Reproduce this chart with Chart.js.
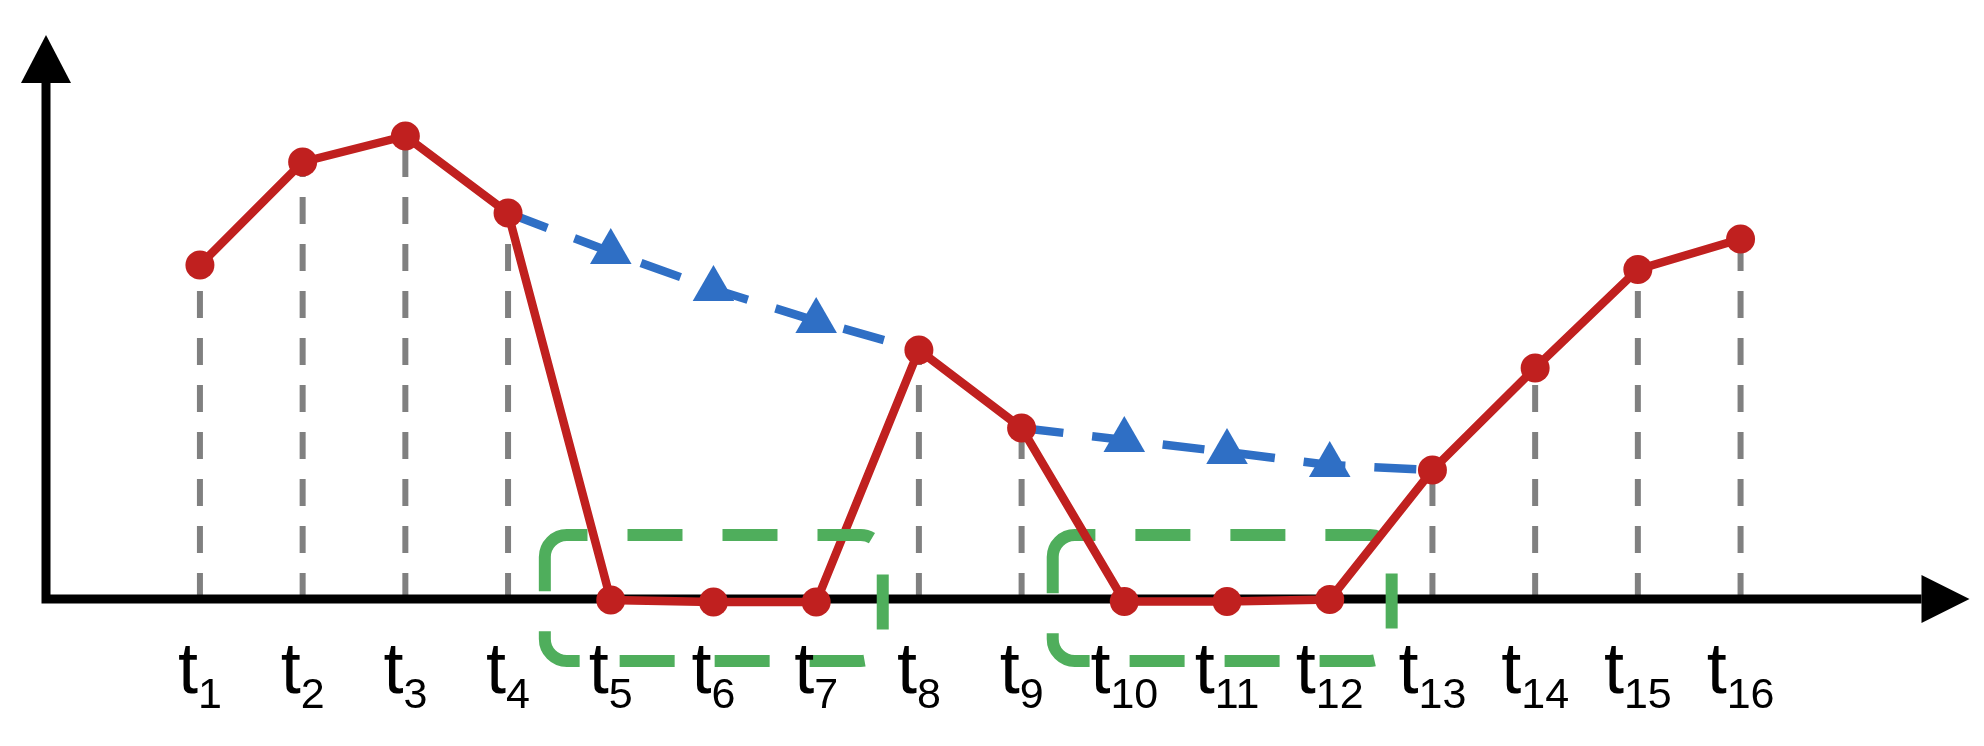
<!DOCTYPE html>
<html>
<head>
<meta charset="utf-8">
<script src="https://cdn.jsdelivr.net/npm/chart.js@4/dist/chart.umd.min.js"></script>
<style>
  html, body { margin: 0; padding: 0; background: #fff; }
  canvas { display: block; }
</style>
</head>
<body>
<canvas id="chart" width="1984" height="746"></canvas>
<script>
// time steps t1..t16 (subscripts under the axis)
const steps = ['1', '2', '3', '4', '5', '6', '7', '8', '9', '10', '11', '12', '13', '14', '15', '16'];
// red series, one value per step
const observed = [33.4, 43.7, 46.3, 38.6, -0.1, -0.3, -0.3, 24.9, 17.1, -0.25, -0.25, -0.05, 12.9, 23.1, 32.95, 36.0];
// blue dashed estimate over the two gaps (t4..t8 and t9..t13)
const trendA = [38.6, 34.7, 31.0, 27.8, 24.9];
const trendAStart = 4;
const trendB = [17.1, 15.9, 14.7, 13.4, 12.9];
const trendBStart = 9;
// green windows, in step units, and their vertical extent
const windows = [[4.358, 7.648], [9.303, 12.603]];
const windowTop = 6.4;
const windowBottom = -6.2;

const RED = '#c0201f';
const BLUE = '#2f6fc5';
const GREEN = '#4fae5c';
const GREY = '#808080';

function legPoints(vals, start) {
    return vals.map((v, i) => ({ x: start + i, y: v }));
}

function drawWindow(chart, w) {
    const { ctx, scales: { x, y } } = chart;
    const l = x.getPixelForValue(w[0]);
    const r = x.getPixelForValue(w[1]);
    const t = y.getPixelForValue(windowTop);
    const b = y.getPixelForValue(windowBottom);
    const rad = 22;
    ctx.save();
    ctx.beginPath();
    ctx.moveTo(l, t + rad);
    ctx.arcTo(l, t, l + rad, t, rad);
    ctx.lineTo(r - rad, t);
    ctx.arcTo(r, t, r, t + rad, rad);
    ctx.lineTo(r, b - rad);
    ctx.arcTo(r, b, r - rad, b, rad);
    ctx.lineTo(l + rad, b);
    ctx.arcTo(l, b, l, b - rad, rad);
    ctx.closePath();
    ctx.setLineDash([55, 40]);
    ctx.lineWidth = 12;
    ctx.strokeStyle = GREEN;
    ctx.stroke();
    ctx.restore();
}

const sketch = {
    id: 'sketch',
    beforeDatasetsDraw(chart) {
        const { ctx, chartArea: area, scales: { x, y } } = chart;
        const y0 = y.getPixelForValue(0);
        const ax = area.left - 1;

        // grey drop lines, dash pattern anchored at the axis
        ctx.save();
        ctx.strokeStyle = GREY;
        ctx.lineWidth = 6;
        ctx.setLineDash([27, 20]);
        observed.forEach((v, i) => {
            if (v <= 1) return;
            const px = x.getPixelForValue(i + 1);
            ctx.beginPath();
            ctx.moveTo(px, y0 + 1);
            ctx.lineTo(px, y.getPixelForValue(v));
            ctx.stroke();
        });
        ctx.restore();

        // axes with arrow heads
        ctx.save();
        ctx.strokeStyle = '#000';
        ctx.fillStyle = '#000';
        ctx.lineWidth = 9;
        ctx.beginPath();
        ctx.moveTo(ax, y0 + 4.5);
        ctx.lineTo(ax, area.top + 48);
        ctx.moveTo(ax - 4.5, y0);
        ctx.lineTo(area.right - 48, y0);
        ctx.stroke();
        ctx.beginPath();
        ctx.moveTo(ax, area.top);
        ctx.lineTo(ax - 25, area.top + 48);
        ctx.lineTo(ax + 25, area.top + 48);
        ctx.closePath();
        ctx.fill();
        ctx.beginPath();
        ctx.moveTo(area.right, y0);
        ctx.lineTo(area.right - 48, y0 - 24);
        ctx.lineTo(area.right - 48, y0 + 24);
        ctx.closePath();
        ctx.fill();
        ctx.restore();

        // second window sits under the red line
        drawWindow(chart, windows[1]);
    },
    afterDatasetsDraw(chart) {
        const { ctx, scales: { x } } = chart;
        // first window sits over the red line
        drawWindow(chart, windows[0]);

        // t with subscript labels
        ctx.save();
        ctx.fillStyle = '#000';
        ctx.textBaseline = 'alphabetic';
        ctx.textAlign = 'left';
        const big = '72px "Liberation Sans", Arial, sans-serif';
        const small = '43px "Liberation Sans", Arial, sans-serif';
        steps.forEach((s, i) => {
            const px = x.getPixelForValue(i + 1);
            ctx.font = big;
            const wt = ctx.measureText('t').width;
            ctx.font = small;
            const ws = ctx.measureText(s).width;
            const sx = px - (wt + ws) / 2;
            ctx.font = big;
            ctx.fillText('t', sx, 693);
            ctx.font = small;
            ctx.fillText(s, sx + wt, 708);
        });
        ctx.restore();
    }
};

const innerOnly = (n) => (c) => (c.dataIndex === 0 || c.dataIndex === n - 1) ? 0 : 24;

new Chart(document.getElementById('chart'), {
    type: 'line',
    data: {
        datasets: [
            {
                data: observed.map((v, i) => ({ x: i + 1, y: v })),
                borderColor: RED,
                borderWidth: 8.5,
                pointRadius: 14.5,
                pointBackgroundColor: RED,
                pointBorderWidth: 0,
                tension: 0
            },
            {
                data: legPoints(trendA, trendAStart),
                borderColor: BLUE,
                borderWidth: 8.5,
                borderDash: [42, 29],
                pointStyle: 'triangle',
                pointRadius: innerOnly(trendA.length),
                pointBackgroundColor: BLUE,
                pointBorderWidth: 0,
                tension: 0
            },
            {
                data: legPoints(trendB, trendBStart),
                borderColor: BLUE,
                borderWidth: 8.5,
                borderDash: [42, 29],
                pointStyle: 'triangle',
                pointRadius: innerOnly(trendB.length),
                pointBackgroundColor: BLUE,
                pointBorderWidth: 0,
                tension: 0
            }
        ]
    },
    options: {
        responsive: false,
        animation: false,
        devicePixelRatio: 1,
        events: [],
        layout: { padding: { left: 47, right: 14, top: 35, bottom: 127 } },
        scales: {
            x: { type: 'linear', min: -0.489, max: 18.229, display: false },
            y: { type: 'linear', min: -2, max: 56.4, display: false }
        },
        plugins: {
            legend: { display: false },
            tooltip: { enabled: false }
        }
    },
    plugins: [sketch]
});
</script>
</body>
</html>
